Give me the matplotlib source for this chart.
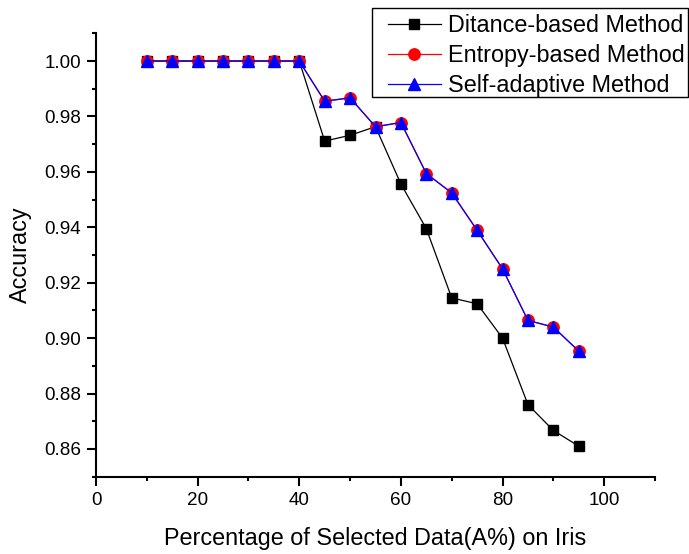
import matplotlib
matplotlib.use("Agg")
import matplotlib.pyplot as plt
from matplotlib.patches import Rectangle
from matplotlib.ticker import MultipleLocator, FormatStrFormatter

plt.rcParams['font.family'] = ['Liberation Sans', 'DejaVu Sans']

percent = [10, 15, 20, 25, 30, 35, 40, 45, 50, 55, 60, 65, 70, 75, 80, 85, 90, 95]
distance_acc = [1.0, 1.0, 1.0, 1.0, 1.0, 1.0, 1.0, 0.9711, 0.9732, 0.9763, 0.9556,
                0.9395, 0.9145, 0.9124, 0.9000, 0.8760, 0.8667, 0.8610]
entropy_acc = [1.0, 1.0, 1.0, 1.0, 1.0, 1.0, 1.0, 0.9855, 0.9867, 0.9763, 0.9778,
               0.9594, 0.9524, 0.9389, 0.9250, 0.9064, 0.9040, 0.8953]
adaptive_acc = [1.0, 1.0, 1.0, 1.0, 1.0, 1.0, 1.0, 0.9855, 0.9867, 0.9763, 0.9778,
                0.9594, 0.9524, 0.9389, 0.9250, 0.9064, 0.9040, 0.8953]
labels = ["Ditance-based Method", "Entropy-based Method", "Self-adaptive Method"]

W, H = 689, 554
fig = plt.figure(figsize=(W / 100, H / 100), dpi=100)
ax = fig.add_axes([96 / W, 1 - 476.7 / H, (655 - 96) / W, (476.7 - 33.3) / H])

ax.plot(percent, distance_acc, color='black', lw=0.9, marker='s', ms=7.8,
        mfc='black', mec='black', label=labels[0])
ax.plot(percent, entropy_acc, color='red', lw=0.9, marker='o', ms=8.2,
        mfc='red', mec='red', label=labels[1])
ax.plot(percent, adaptive_acc, color='blue', lw=0.9, marker='^', ms=8.8,
        mfc='blue', mec='blue', label=labels[2])

ax.set_xlim(0, 110)
ax.set_ylim(0.85, 1.01)
ax.xaxis.set_major_locator(MultipleLocator(20))
ax.xaxis.set_minor_locator(MultipleLocator(10))
ax.yaxis.set_major_locator(MultipleLocator(0.02))
ax.yaxis.set_minor_locator(MultipleLocator(0.01))
ax.yaxis.set_major_formatter(FormatStrFormatter('%.2f'))

for side in ('top', 'right'):
    ax.spines[side].set_visible(False)
for side in ('left', 'bottom'):
    ax.spines[side].set_linewidth(1.5)

ax.tick_params(which='major', direction='out', length=6.3, width=1.5, labelsize=13.6, pad=4.5)
ax.tick_params(which='minor', direction='out', length=3.2, width=1.5)

ax.set_xlabel("Percentage of Selected Data(A%) on Iris", fontsize=16.8, labelpad=13)
ax.set_ylabel("Accuracy", fontsize=16.8, labelpad=9)

# legend entries without frame, boxed by a separate rectangle
fig.legend(loc='upper left', bbox_to_anchor=(388 / W, 1 - 14.5 / H),
           fontsize=16.8, frameon=False, handlelength=2.27, handletextpad=0.3,
           labelspacing=0.29, borderpad=0, borderaxespad=0)
fig.add_artist(Rectangle((371.7 / W, 1 - 96.7 / H), (688 - 371.7) / W, (96.7 - 8.3) / H,
                         transform=fig.transFigure, fill=False, edgecolor='black', lw=1.0))

fig.savefig("out.png", dpi=100)
